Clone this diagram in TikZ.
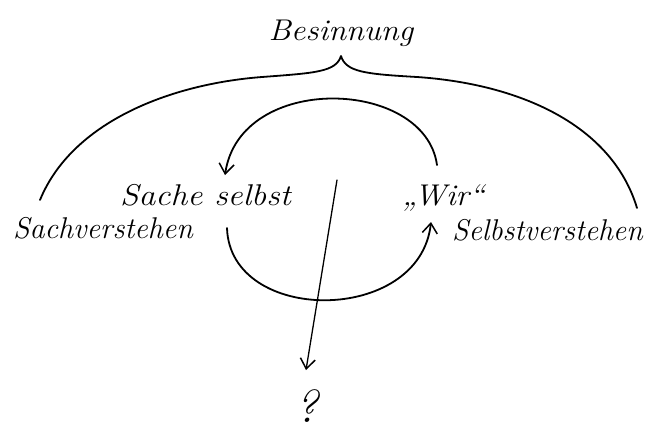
\documentclass[tikz,border=0pt]{standalone}
\usepackage{graphicx}
\usetikzlibrary{arrows.meta}
\newcommand\hw[2][1.08]{\scalebox{#1}[1]{#2}}
\tikzset{
  hand/.style={font=\fontsize{30}{34}\selectfont\itshape, inner sep=0pt},
  stroke/.style={line width=1.8pt, line cap=round, line join=round},
  thin stroke/.style={line width=1.3pt, line cap=round},
  barb/.style={-{Straight Barb[length=10pt,width=15pt,line width=1.5pt]}}
}
\begin{document}
\begin{tikzpicture}[x=1pt,y=-1pt]
\useasboundingbox (0,0) rectangle (654,432);
% labels
\node[hand, anchor=base] (bes) at (341,40) {\hw{Besinnung}};
\node[hand, anchor=base west] (sv) at (13,238) {\hw[1.0]{Sachverstehen}};
\node[hand, anchor=base west] (ss) at (120,205) {\hw[1.12]{Sache selbst}};
\node[hand, anchor=base west] (wir) at (402,205) {\hw{„Wir“}};
\node[hand, anchor=base west] (sb) at (452,240) {\hw[0.99]{Selbstverstehen}};
\node[hand, font=\fontsize{46}{50}\selectfont\itshape, anchor=base] (q) at (307,422) {?};
% brace
\coordinate (bt) at (341,56);
\coordinate (lend) at (40,200);
\coordinate (rend) at (637,208);
\draw[stroke] (lend) .. controls (72,122) and (170,84) .. (262,77)
  .. controls (315,73) and (336,72) .. (bt)
  .. controls (346,72) and (365,74) .. (417,77)
  .. controls (520,84) and (612,125) .. (rend);
% upper loop
\coordinate (u1) at (437,165);
\coordinate (u2) at (225,175);
\draw[stroke, barb] (u1) .. controls (425,78) and (240,72) .. (u2);
% lower loop
\coordinate (l1) at (227,228);
\coordinate (l2) at (431,222);
\draw[stroke, barb] (l1) .. controls (230,325) and (420,325) .. (l2);
% straight arrow
\coordinate (s1) at (337,180);
\coordinate (s2) at (306,370);
\draw[thin stroke, barb] (s1) -- (s2);
\end{tikzpicture}
\end{document}
